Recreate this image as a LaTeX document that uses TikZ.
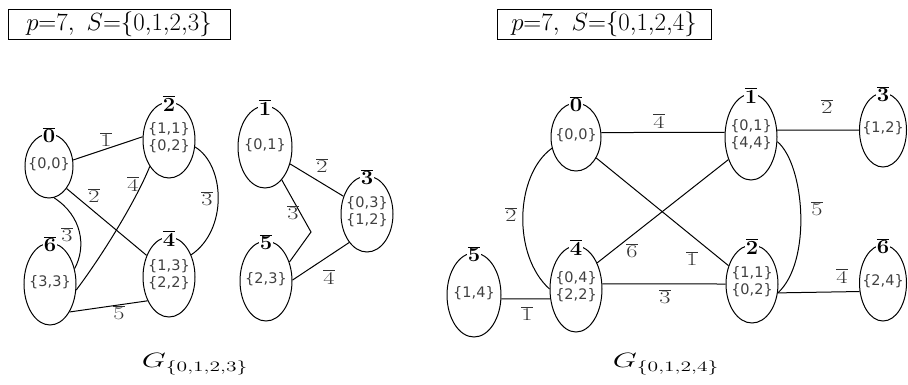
\documentclass[tikz,border=0pt]{standalone}
\usepackage{fontspec}
\usepackage{graphicx}
\newfontfamily\dejavu{DejaVu Sans}
\usetikzlibrary{shapes.geometric}
\tikzset{
  vtx/.style={ellipse, draw, line width=1pt, inner sep=0pt},
  vtxt/.style={font=\dejavu\fontsize{14.5}{17}\selectfont, align=center, text=black!75, inner sep=0pt},
  vtop/.style={fill=white, inner sep=1pt, font=\fontsize{20}{20}\selectfont},
  e/.style={line width=1pt},
  elab/.style={font=\fontsize{18}{18}\selectfont, text=black!80, inner sep=0pt},
  titlebox/.style={draw, line width=0.9pt, minimum height=30pt, inner sep=0pt, font=\fontsize{24}{24}\selectfont},
  glab/.style={inner sep=0pt, font=\fontsize{21}{24}\selectfont}
}
\newcommand\ov[1]{\scalebox{1.35}[1]{$\overline{\hbox{#1}}$}}
\newcommand\vtxnode[6]{%
  \node[vtx, minimum width={2*#3pt}, minimum height={2*#4pt}] (#1) at #2 {};
  \node[vtxt] (#1t) at ([yshift=2pt]#1.center) {#6};
  \node[vtop] (#1l) at ([yshift=-2pt]#1.north) {\scalebox{1.1}[1]{$\overline{\hbox{\bfseries #5}}$}};
}
\begin{document}
\begin{tikzpicture}[x=1pt, y=-1pt]
\useasboundingbox (0,0) rectangle (908,384);

% titles
\node[titlebox, minimum width=222pt] (T1) at (119,24) {$p{=}7{,}\hspace{0.5em}S{=}\{0{,}1{,}2{,}3\}$};
\node[titlebox, minimum width=214pt] (T2) at (604,24) {$p{=}7{,}\hspace{0.5em}S{=}\{0{,}1{,}2{,}4\}$};

% ---------- left graph ----------
\vtxnode{L0}{(49,166)}{24}{32}{0}{\{0,0\}}
\vtxnode{L2}{(169,140)}{26}{38}{2}{\{1,1\}\\\{0,2\}}
\vtxnode{L4}{(169,277)}{26}{40}{4}{\{1,3\}\\\{2,2\}}
\vtxnode{L6}{(50,284)}{26}{41}{6}{\{3,3\}}
\vtxnode{L1}{(265,147)}{27}{41}{1}{\{0,1\}}
\vtxnode{L3}{(367,214)}{26}{38}{3}{\{0,3\}\\\{1,2\}}
\vtxnode{L5}{(266,281)}{26}{40}{5}{\{2,3\}}
\coordinate (k) at (311,232);

\draw[e] (L0.14) -- (L2.173) node[elab] (a1) at (106,140) {\ov{1}};
\draw[e] (L0.-52) -- (L4.136) node[elab] (a2) at (94,196) {\ov{2}};
\draw[e] (L6.-13) .. controls +(30,-40) and +(-12,30) .. (L2.234) node[elab] (a3) at (133,184) {\ov{4}};
\draw[e] (L0.-81) .. controls +(28,18) and +(12,-22) .. (L6.32) node[elab] (a4) at (67,235) {\ov{3}};
\draw[e] (L2.-15) .. controls +(30,18) and +(37,-25) .. (L4.45) node[elab] (a5) at (207,199) {\ov{3}};
\draw[e] (L6.-55) -- (L4.228) node[elab] (a6) at (119,313) {\ov{5}};
\draw[e] (L1.-34) -- (L3.143) node[elab] (a7) at (322,166) {\ov{2}};
\draw[e] (L1.-63) -- (k) -- (L5.39) node[elab] (a8) at (293,213) {\ov{3}};
\draw[e] (L5.2) -- (L3.238) node[elab] (a9) at (329,277) {\ov{4}};

\node[glab] (G1) at (195,364) {\scalebox{1.5}[1]{$G_{\{0,1,2,3\}}$}};

% ---------- right graph ----------
\vtxnode{R0}{(576,137)}{25}{34}{0}{\{0,0\}}
\vtxnode{R1}{(751,137)}{26}{43}{1}{\{0,1\}\\\{4,4\}}
\vtxnode{R3}{(883,130)}{23.5}{37}{3}{\{1,2\}}
\vtxnode{R4}{(576,289)}{26}{43}{4}{\{0,4\}\\\{2,2\}}
\vtxnode{R5}{(474,295)}{27}{42}{5}{\{1,4\}}
\vtxnode{R2}{(752,284)}{26}{39}{2}{\{1,1\}\\\{0,2\}}
\vtxnode{R6}{(883,283)}{23.5}{38}{6}{\{2,4\}}

\draw[e] (R0.10) -- (R1.170) node[elab] (b1) at (659,121) {\ov{4}};
\draw[e] (R1.15) -- (R3.west) node[elab] (b2) at (827,107) {\ov{2}};
\draw[e] (R0.-46) -- (R2.142) node[elab] (b3) at (692,259) {\ov{1}};
\draw[e] (R4.51) -- (R1.225) node[elab] (b4) at (632,251) {\ov{6}};
\draw[e] (R0.205) .. controls (515,175) and (512,255) .. (R4.180) node[elab] (b5) at (511,215) {\ov{2}};
\draw[e] (R5.-8) -- (R4.201) node[elab] (b6) at (527,314) {\ov{1}};
\draw[e] (R4.11) -- (R2.west) node[elab] (b7) at (665,297) {\ov{3}};
\draw[e] (R1.-10) .. controls (805,165) and (812,262) .. (R2.-19) node[elab] (b8) at (817,209) {\ov{5}};
\draw[e] (R2.-19) -- (R6.200) node[elab] (b9) at (842,276) {\ov{4}};

\node[glab] (G2) at (666,364) {\scalebox{1.5}[1]{$G_{\{0,1,2,4\}}$}};
\end{tikzpicture}
\end{document}
